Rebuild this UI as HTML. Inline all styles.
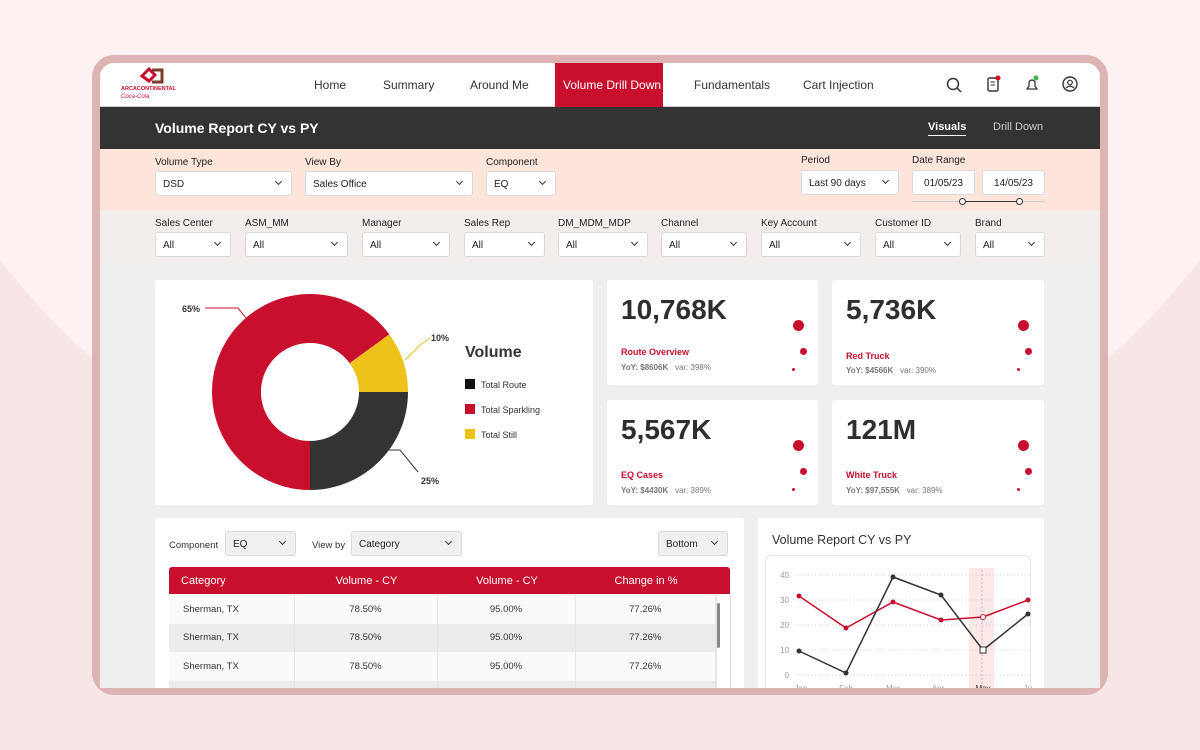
<!DOCTYPE html>
<html><head><meta charset="utf-8"><style>
*{box-sizing:border-box;margin:0;padding:0}
body{width:1200px;height:750px;overflow:hidden;position:relative;font-family:"Liberation Sans",sans-serif;background:#f8e6e6;color:#333}
.a{position:absolute}
.bg1{left:-150px;top:-900px;width:1500px;height:1450px;border-radius:50%;background:#fdf1f1}
.bezel{left:92px;top:55px;width:1016px;height:640px;border-radius:22px;background:#ddb3b3}
.screen{left:100px;top:63px;width:1000px;height:625px;border-radius:14px 14px 0 0;background:#efefef;overflow:hidden}
.nav{left:0;top:0;width:1000px;height:44px;background:#fff;border-bottom:1px solid #ccc}
.nav span{position:absolute;top:15px;font-size:12px;color:#333}
.dark{left:0;top:44px;width:1000px;height:42px;background:#333}
.peach{left:0;top:86px;width:1000px;height:61px;background:#fde5dc}
.grey{left:0;top:147px;width:1000px;height:53px;background:#f3eeec}
.lbl{font-size:10px;color:#222;position:absolute}
.sel{position:absolute;height:25px;background:#fff;border:1px solid #d8d8d8;border-radius:3px;font-size:10px;color:#222;padding:7px 0 0 7px}
.sel i{position:absolute;right:10px;top:7px;width:5px;height:5px;border-right:1px solid #333;border-bottom:1px solid #333;transform:rotate(45deg)}
.card{position:absolute;background:#fff;border-radius:3px}
.big{position:absolute;left:14px;top:14px;font-size:28px;font-weight:bold;color:#2e2e2e}
.kt{position:absolute;left:14px;font-size:9px;font-weight:bold;color:#c8102e}
.ks{position:absolute;left:14px;font-size:8px;color:#777}
.dot{position:absolute;border-radius:50%;background:#c8102e}
td{font-size:9.5px;color:#333;height:28.5px;text-align:center;border-right:1px solid #e6e6e6}
.th{position:absolute;top:8px;text-align:center}
</style></head><body>
<div class="a bg1"></div>
<div class="a bezel"></div>
<div class="a screen">
 <div class="a nav">
  <div class="a" style="left:38px;top:3px;width:28px;height:20px;"><svg width="28" height="20"><path d="M4 10 L11 3 L17 9 L11 15 Z" fill="none" stroke="#c8102e" stroke-width="3"/><path d="M14 4 L24 4 L24 16 L14 16" fill="none" stroke="#7a3b2e" stroke-width="3"/></svg></div>
  <div class="a" style="left:21px;top:23px;font-size:5.5px;color:#c8102e;font-weight:bold">ARCACONTINENTAL</div>
  <div class="a" style="left:21px;top:31px;font-size:6px;color:#c8102e;font-style:italic">Coca-Cola <span style="font-size:4px">SOUTHWEST BEVERAGES</span></div>
  <span style="left:214px">Home</span><span style="left:283px">Summary</span><span style="left:370px">Around Me</span>
  <div class="a" style="left:455px;top:0;width:108px;height:44px;background:#c8102e"></div>
  <span style="left:463px;color:#fff">Volume Drill Down</span>
  <span style="left:594px">Fundamentals</span><span style="left:703px">Cart Injection</span>
  <svg class="a" style="left:845px;top:13px" width="18" height="18"><circle cx="8" cy="8" r="5.5" fill="none" stroke="#333" stroke-width="1.5"/><line x1="12" y1="12" x2="16" y2="16" stroke="#333" stroke-width="1.5"/></svg>
  <svg class="a" style="left:885px;top:12px" width="18" height="18"><rect x="3" y="3" width="10" height="13" rx="1.5" fill="none" stroke="#333" stroke-width="1.4"/><line x1="5.5" y1="7" x2="10" y2="7" stroke="#333"/><line x1="5.5" y1="10" x2="10" y2="10" stroke="#333"/><circle cx="13" cy="3" r="2.5" fill="#e0001a"/></svg>
  <svg class="a" style="left:923px;top:12px" width="18" height="18"><path d="M4 14 L14 14 L12 11 L12 7 A3.5 4 0 0 0 6 7 L6 11 Z" fill="none" stroke="#333" stroke-width="1.3"/><circle cx="13" cy="3" r="2.5" fill="#3bb54a"/></svg>
  <svg class="a" style="left:961px;top:12px" width="18" height="18"><circle cx="9" cy="9" r="7" fill="none" stroke="#333" stroke-width="1.4"/><circle cx="9" cy="7.5" r="2.3" fill="none" stroke="#333" stroke-width="1.2"/><path d="M5 13 Q9 9.5 13 13" fill="none" stroke="#333" stroke-width="1.2"/></svg>
 </div>
 <div class="a dark">
  <div class="a" style="left:55px;top:13px;color:#fff;font-size:14px;font-weight:bold">Volume Report CY vs PY</div>
  <div class="a" style="left:828px;top:14px;color:#fff;font-size:11px;font-weight:bold;border-bottom:1px solid #fff;padding-bottom:2px">Visuals</div>
  <div class="a" style="left:893px;top:14px;color:#ccc;font-size:11px">Drill Down</div>
 </div>
 <div class="a peach">
  <div class="lbl" style="left:55px;top:8px">Volume Type</div><div class="sel" style="left:55px;top:22px;width:137px">DSD<i></i></div>
  <div class="lbl" style="left:205px;top:8px">View By</div><div class="sel" style="left:205px;top:22px;width:168px">Sales Office<i></i></div>
  <div class="lbl" style="left:386px;top:8px">Component</div><div class="sel" style="left:386px;top:22px;width:70px">EQ<i></i></div>
  <div class="lbl" style="left:701px;top:6px">Period</div><div class="sel" style="left:701px;top:21px;width:98px">Last 90 days<i></i></div>
  <div class="lbl" style="left:812px;top:6px">Date Range</div>
  <div class="sel" style="left:812px;top:21px;width:63px;text-align:center;padding-left:0">01/05/23</div>
  <div class="sel" style="left:882px;top:21px;width:63px;text-align:center;padding-left:0">14/05/23</div>
  <div class="a" style="left:812px;top:52px;width:133px;height:1px;background:#ccc"></div>
  <div class="a" style="left:863px;top:52px;width:57px;height:1px;background:#333"></div>
  <div class="a" style="left:859px;top:49px;width:7px;height:7px;border:1px solid #333;border-radius:50%;background:#fff"></div>
  <div class="a" style="left:916px;top:49px;width:7px;height:7px;border:1px solid #333;border-radius:50%;background:#fff"></div>
 </div>
 <div class="a grey">
  <div class="lbl" style="left:55px;top:8px">Sales Center</div><div class="sel" style="left:55px;top:22px;width:76px">All<i></i></div>
  <div class="lbl" style="left:145px;top:8px">ASM_MM</div><div class="sel" style="left:145px;top:22px;width:103px">All<i></i></div>
  <div class="lbl" style="left:262px;top:8px">Manager</div><div class="sel" style="left:262px;top:22px;width:88px">All<i></i></div>
  <div class="lbl" style="left:364px;top:8px">Sales Rep</div><div class="sel" style="left:364px;top:22px;width:81px">All<i></i></div>
  <div class="lbl" style="left:458px;top:8px">DM_MDM_MDP</div><div class="sel" style="left:458px;top:22px;width:90px">All<i></i></div>
  <div class="lbl" style="left:561px;top:8px">Channel</div><div class="sel" style="left:561px;top:22px;width:86px">All<i></i></div>
  <div class="lbl" style="left:661px;top:8px">Key Account</div><div class="sel" style="left:661px;top:22px;width:100px">All<i></i></div>
  <div class="lbl" style="left:775px;top:8px">Customer ID</div><div class="sel" style="left:775px;top:22px;width:86px">All<i></i></div>
  <div class="lbl" style="left:875px;top:8px">Brand</div><div class="sel" style="left:875px;top:22px;width:70px">All<i></i></div>
 </div>
 <div class="card" style="left:55px;top:217px;width:438px;height:225px"></div>
 <div class="card" style="left:507px;top:217px;width:211px;height:105px"><div class="big">10,768K</div><div class="kt" style="top:67px">Route Overview</div><div class="ks" style="top:83px"><b>YoY: $8606K</b>&nbsp;&nbsp; var: 398%</div><div class="dot" style="left:186px;top:40px;width:11px;height:11px"></div><div class="dot" style="left:193px;top:68px;width:7px;height:7px"></div><div class="dot" style="left:185px;top:88px;width:3px;height:3px"></div></div>
 <div class="card" style="left:732px;top:217px;width:212px;height:105px"><div class="big">5,736K</div><div class="kt" style="top:71px">Red Truck</div><div class="ks" style="top:86px"><b>YoY: $4566K</b>&nbsp;&nbsp; var: 390%</div><div class="dot" style="left:186px;top:40px;width:11px;height:11px"></div><div class="dot" style="left:193px;top:68px;width:7px;height:7px"></div><div class="dot" style="left:185px;top:88px;width:3px;height:3px"></div></div>
 <div class="card" style="left:507px;top:337px;width:211px;height:105px"><div class="big">5,567K</div><div class="kt" style="top:70px">EQ Cases</div><div class="ks" style="top:86px"><b>YoY: $4430K</b>&nbsp;&nbsp; var: 389%</div><div class="dot" style="left:186px;top:40px;width:11px;height:11px"></div><div class="dot" style="left:193px;top:68px;width:7px;height:7px"></div><div class="dot" style="left:185px;top:88px;width:3px;height:3px"></div></div>
 <div class="card" style="left:732px;top:337px;width:212px;height:105px"><div class="big">121M</div><div class="kt" style="top:70px">White Truck</div><div class="ks" style="top:86px"><b>YoY: $97,555K</b>&nbsp;&nbsp; var: 389%</div><div class="dot" style="left:186px;top:40px;width:11px;height:11px"></div><div class="dot" style="left:193px;top:68px;width:7px;height:7px"></div><div class="dot" style="left:185px;top:88px;width:3px;height:3px"></div></div>
 <div class="card" style="left:55px;top:455px;width:589px;height:180px">
  <div class="a" style="left:14px;top:22px;font-size:9.5px">Component</div>
  <div class="sel" style="left:70px;top:13px;width:71px;background:#f0f0f0">EQ<i></i></div>
  <div class="a" style="left:157px;top:22px;font-size:9.5px">View by</div>
  <div class="sel" style="left:196px;top:13px;width:111px;background:#f0f0f0">Category<i></i></div>
  <div class="sel" style="left:503px;top:13px;width:70px;background:#f0f0f0">Bottom<i></i></div>
  <div class="a" style="left:14px;top:49px;width:561px;height:27px;background:#c8102e;border-radius:3px 3px 0 0;color:#fff;font-size:11px">
   <span class="a" style="left:12px;top:8px">Category</span>
   <span class="th" style="left:126px;width:143px">Volume - CY</span>
   <span class="th" style="left:269px;width:138px">Volume - CY</span>
   <span class="th" style="left:407px;width:140px">Change in %</span>
  </div>
  <table class="a" style="left:14px;top:77px;width:547px;border-collapse:collapse">
   <tr style="background:#fafafa"><td style="text-align:left;padding-left:14px;width:125px">Sherman, TX</td><td style="width:143px">78.50%</td><td style="width:138px">95.00%</td><td>77.26%</td></tr>
   <tr style="background:#ececec"><td style="text-align:left;padding-left:14px">Sherman, TX</td><td>78.50%</td><td>95.00%</td><td>77.26%</td></tr>
   <tr style="background:#fafafa"><td style="text-align:left;padding-left:14px">Sherman, TX</td><td>78.50%</td><td>95.00%</td><td>77.26%</td></tr>
   <tr style="background:#ececec"><td>&nbsp;</td><td></td><td></td><td></td></tr>
  </table>
  <div class="a" style="left:561px;top:77px;width:14px;height:110px;background:#fff;border-left:1px solid #e6e6e6"></div>
  <div class="a" style="left:561px;top:85px;width:3px;height:45px;background:#888;border-radius:2px;margin-left:1px"></div>
  <div class="a" style="left:575px;top:77px;width:1px;height:110px;background:#ddd"></div>
 </div>
 <div class="card" style="left:658px;top:455px;width:286px;height:180px">
  <div class="a" style="left:14px;top:15px;font-size:12.5px;color:#333">Volume Report CY vs PY</div>
  <div class="a" style="left:7px;top:37px;width:266px;height:150px;border:1px solid #e6e6e6;border-radius:6px"></div>
 </div>
</div>
<svg class="a" style="left:0;top:0" width="1200" height="688">
 <path d="M310 490 A98 98 0 1 1 389.3 334.4 L349.6 363.2 A49 49 0 1 0 310 441 Z" fill="#c8102e"/>
 <path d="M389.3 334.4 A98 98 0 0 1 408 392 L359 392 A49 49 0 0 0 349.6 363.2 Z" fill="#ecc21b"/>
 <path d="M408 392 A98 98 0 0 1 310 490 L310 441 A49 49 0 0 0 359 392 Z" fill="#333"/>
 <polyline points="205,308 238,308 246,318" fill="none" stroke="#c8102e"/>
 <polyline points="430,338 420,345 405,360" fill="none" stroke="#ecc21b"/>
 <polyline points="373,450 400,450 418,472" fill="none" stroke="#333"/>
 <text x="182" y="312" font-size="9" font-weight="bold" fill="#333" font-family="Liberation Sans">65%</text>
 <text x="431" y="341" font-size="9" font-weight="bold" fill="#333" font-family="Liberation Sans">10%</text>
 <text x="421" y="484" font-size="9" font-weight="bold" fill="#333" font-family="Liberation Sans">25%</text>
 <text x="465" y="357" font-size="16" font-weight="bold" fill="#333" font-family="Liberation Sans">Volume</text>
 <rect x="465" y="379" width="10" height="10" fill="#111"/><text x="481" y="388" font-size="9" fill="#333" font-family="Liberation Sans">Total Route</text>
 <rect x="465" y="404" width="10" height="10" fill="#c8102e"/><text x="481" y="413" font-size="9" fill="#333" font-family="Liberation Sans">Total Sparkling</text>
 <rect x="465" y="429" width="10" height="10" fill="#ecc21b"/><text x="481" y="438" font-size="9" fill="#333" font-family="Liberation Sans">Total Still</text>
 <rect x="969" y="568" width="25" height="120" fill="#fde8e8"/>
 <line x1="982" y1="570" x2="982" y2="688" stroke="#e88" stroke-dasharray="2,2" stroke-width="0.7"/>
 <g stroke="#ccc" stroke-dasharray="1.5,2" stroke-width="0.8">
  <line x1="797" y1="575" x2="1030" y2="575"/><line x1="797" y1="600" x2="1030" y2="600"/><line x1="797" y1="625" x2="1030" y2="625"/><line x1="797" y1="650" x2="1030" y2="650"/><line x1="797" y1="675" x2="1030" y2="675"/>
 </g>
 <g font-size="8" fill="#999" font-family="Liberation Sans" text-anchor="end">
  <text x="789" y="578">40</text><text x="789" y="603">30</text><text x="789" y="628">20</text><text x="789" y="653">10</text><text x="789" y="678">0</text>
 </g>
 <g font-size="8" fill="#999" font-family="Liberation Sans" text-anchor="middle">
  <text x="801" y="691">Jan</text><text x="846" y="691">Feb</text><text x="893" y="691">Mar</text><text x="938" y="691">Apr</text><text x="983" y="691" fill="#333">May</text><text x="1028" y="691">Ju</text>
 </g>
 <polyline points="799,596 846,628 893,602 941,620 983,617 1028,600" fill="none" stroke="#c8102e" stroke-width="1.5"/>
 <polyline points="799,651 846,673 893,577 941,595 983,650 1028,614" fill="none" stroke="#333" stroke-width="1.5"/>
 <g fill="#c8102e"><circle cx="799" cy="596" r="2.5"/><circle cx="846" cy="628" r="2.5"/><circle cx="893" cy="602" r="2.5"/><circle cx="941" cy="620" r="2.5"/><circle cx="1028" cy="600" r="2.5"/></g>
 <circle cx="983" cy="617" r="2.5" fill="#fff" stroke="#c8102e"/>
 <g fill="#333"><circle cx="799" cy="651" r="2.5"/><circle cx="846" cy="673" r="2.5"/><circle cx="893" cy="577" r="2.5"/><circle cx="941" cy="595" r="2.5"/><circle cx="1028" cy="614" r="2.5"/></g>
 <rect x="980" y="647" width="6" height="6" fill="#fff" stroke="#333"/>
</svg>
</body></html>
